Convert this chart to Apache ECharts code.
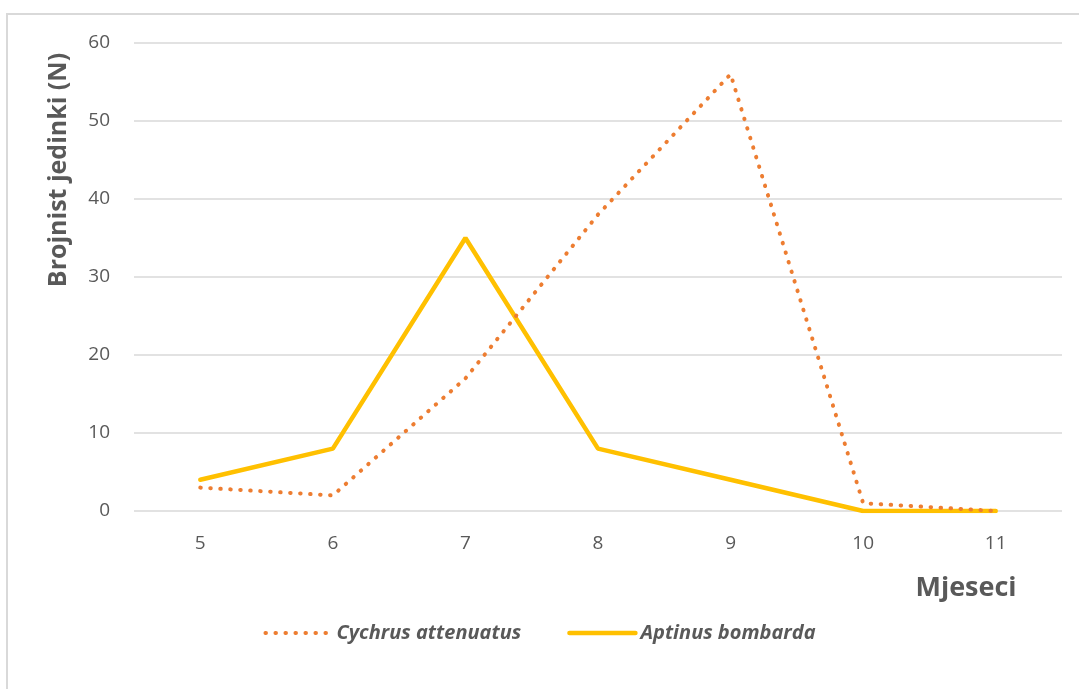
<!DOCTYPE html>
<html>
<head>
<meta charset="utf-8">
<script src="https://cdn.jsdelivr.net/npm/echarts@6/dist/echarts.min.js"></script>
<style>
html,body{margin:0;padding:0;background:#fff;}
#c{width:1079px;height:689px;}
</style>
</head>
<body>
<div id="c"></div>
<script>
const months = ['5','6','7','8','9','10','11'];
const cychrus = [3, 2, 17, 38, 56, 1, 0];
const aptinus = [4, 8, 35, 8, 4, 0, 0];
const yTicks = {min: 0, max: 60, interval: 10};
const seriesNames = ['Cychrus attenuatus', 'Aptinus bombarda'];

const FONT = '"Open Sans", Lato, sans-serif';
const dotStyle = {color: '#ED7D31', width: 4, type: [0.5, 9.5], cap: 'round'};
const solidStyle = {color: '#FFC000', width: 4.5, cap: 'round'};
const chart = echarts.init(document.getElementById('c'), null, {renderer: 'canvas'});
chart.setOption({
  animation: false,
  backgroundColor: '#fff',
  grid: {left: 134, right: 17, top: 43, bottom: 178},
  graphic: [
    {type: 'rect', z: -10, shape: {x: 7, y: 14, width: 1300, height: 900},
     style: {fill: 'none', stroke: '#d9d9d9', lineWidth: 2}},
    {type: 'text', x: 59, y: 170, rotation: Math.PI / 2,
     style: {text: 'Brojnist jedinki (N)', font: 'bold 25px ' + FONT, fill: '#595959',
             align: 'center', verticalAlign: 'middle'}},
    {type: 'text', x: 966, y: 588,
     style: {text: 'Mjeseci', font: 'bold 27px ' + FONT, fill: '#595959',
             align: 'center', verticalAlign: 'middle'}}
  ],
  legend: {
    data: [
      {name: seriesNames[0], lineStyle: dotStyle},
      {name: seriesNames[1], lineStyle: solidStyle}
    ],
    top: 618,
    left: 'center',
    itemWidth: 66,
    itemHeight: 14,
    itemGap: 46,
    itemStyle: {opacity: 0},
    textStyle: {fontFamily: FONT, fontSize: 20, fontStyle: 'italic', fontWeight: 'bold', color: '#595959'}
  },
  xAxis: {
    type: 'category',
    data: months,
    boundaryGap: true,
    axisLine: {show: false},
    axisTick: {show: false},
    axisLabel: {fontFamily: FONT, fontSize: 19, color: '#595959', margin: 23}
  },
  yAxis: {
    type: 'value',
    min: yTicks.min, max: yTicks.max, interval: yTicks.interval,
    axisLine: {show: false},
    axisTick: {show: false},
    axisLabel: {fontFamily: FONT, fontSize: 19, color: '#595959', margin: 24},
    splitLine: {lineStyle: {color: '#d9d9d9', width: 1.5}}
  },
  series: [
    {name: seriesNames[0], type: 'line', data: cychrus, symbol: 'none',
     color: '#ED7D31', lineStyle: dotStyle, z: 3},
    {name: seriesNames[1], type: 'line', data: aptinus, symbol: 'none',
     color: '#FFC000', lineStyle: solidStyle, z: 2}
  ]
});
</script>
</body>
</html>
